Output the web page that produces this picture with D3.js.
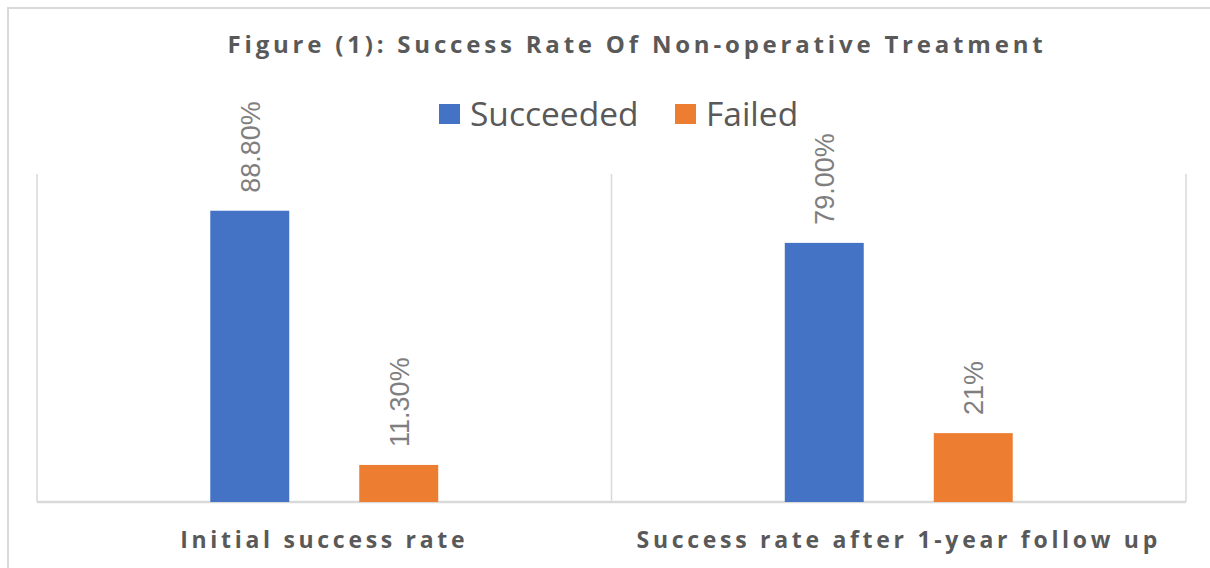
<!DOCTYPE html>
<html>
<head>
<meta charset="utf-8">
<script src="https://cdn.jsdelivr.net/npm/d3@7"></script>
<style>
  body { margin: 0; background: #fff; }
  svg { display: block; }
</style>
</head>
<body>
<div id="chart"></div>
<script>

// data
var categories = ["Initial success rate", "Success rate after 1-year follow up"];
var seriesNames = ["Succeeded", "Failed"];
var succeeded = [88.8, 79.0];
var failed = [11.3, 21];
var valueLabels = [["88.80%", "11.30%"], ["79.00%", "21%"]];

var colors = ["#4472c4", "#ed7d31"];

var width = 1210, height = 568;
var margin = { top: 174, right: 24, bottom: 66, left: 37 };

var svg = d3.select("#chart").append("svg")
    .attr("width", width)
    .attr("height", height);

// outer chart border (only top/left visible in the crop)
svg.append("path")
    .attr("d", "M8,568 L8,8 L1210,8")
    .attr("fill", "none")
    .attr("stroke", "#d9d9d9")
    .attr("stroke-width", 2);

var plotW = width - margin.left - margin.right,
    plotH = height - margin.top - margin.bottom;

var g = svg.append("g")
    .attr("transform", "translate(" + margin.left + "," + margin.top + ")");

var x0 = d3.scaleBand()
    .domain(categories)
    .range([0, plotW])
    .padding(0);

var x1 = d3.scaleBand()
    .domain(seriesNames)
    .range([0, x0.bandwidth()])
    .paddingInner(0.47)
    .paddingOuter(1.163);

var y = d3.scaleLinear()
    .domain([0, 100])
    .range([plotH, 0]);

// vertical category separators
var seps = [0].concat(categories.map(function(c) { return x0(c) + x0.bandwidth(); }));
g.selectAll(".sep")
    .data(seps)
    .enter().append("line")
    .attr("class", "sep")
    .attr("x1", function(d) { return d; })
    .attr("x2", function(d) { return d; })
    .attr("y1", 0)
    .attr("y2", plotH)
    .attr("stroke", "#d9d9d9")
    .attr("stroke-width", 1.5);

// x axis line
g.append("line")
    .attr("x1", 0).attr("x2", plotW)
    .attr("y1", plotH).attr("y2", plotH)
    .attr("stroke", "#d9d9d9")
    .attr("stroke-width", 2.5);

var rows = categories.map(function(c, i) {
    return { cat: c, values: [succeeded[i], failed[i]], labels: valueLabels[i] };
});

var groups = g.selectAll(".group")
    .data(rows)
    .enter().append("g")
    .attr("class", "group")
    .attr("transform", function(d) { return "translate(" + x0(d.cat) + ",0)"; });

groups.selectAll("rect")
    .data(function(d) { return d.values.map(function(v, j) { return { key: seriesNames[j], value: v, label: d.labels[j], idx: j }; }); })
    .enter().append("rect")
    .attr("x", function(d) { return x1(d.key); })
    .attr("y", function(d) { return y(d.value); })
    .attr("width", x1.bandwidth())
    .attr("height", function(d) { return plotH - y(d.value); })
    .attr("fill", function(d) { return colors[d.idx]; });

// rotated data labels
groups.selectAll(".vlabel")
    .data(function(d) { return d.values.map(function(v, j) { return { key: seriesNames[j], value: v, label: d.labels[j] }; }); })
    .enter().append("text")
    .attr("class", "vlabel")
    .attr("transform", function(d) {
        return "translate(" + (x1(d.key) + x1.bandwidth() / 2 + 10) + "," + (y(d.value) - 18) + ") rotate(-90)";
    })
    .attr("text-anchor", "start")
    .style("font-family", "'Liberation Sans', Arial, sans-serif")
    .style("font-size", "27px")
    .style("fill", "#7f7f7f")
    .text(function(d) { return d.label; });

// category labels
g.selectAll(".cat")
    .data(categories)
    .enter().append("text")
    .attr("class", "cat")
    .attr("x", function(d) { return x0(d) + x0.bandwidth() / 2; })
    .attr("y", plotH + 46)
    .attr("text-anchor", "middle")
    .style("font-family", "'Open Sans', sans-serif")
    .style("font-weight", "bold")
    .style("font-size", "23px")
    .style("letter-spacing", "3.7px")
    .style("fill", "#595959")
    .text(function(d) { return d; });

// title
svg.append("text")
    .attr("x", 637)
    .attr("y", 53)
    .attr("text-anchor", "middle")
    .style("font-family", "'Open Sans', sans-serif")
    .style("font-weight", "bold")
    .style("font-size", "24px")
    .style("letter-spacing", "3.8px")
    .style("fill", "#595959")
    .text("Figure (1): Success Rate Of Non-operative Treatment");

// legend
var legendX = [439, 675];
var legend = svg.selectAll(".legend")
    .data(seriesNames)
    .enter().append("g")
    .attr("class", "legend")
    .attr("transform", function(d, i) { return "translate(" + legendX[i] + ",104)"; });

legend.append("rect")
    .attr("width", 21)
    .attr("height", 20)
    .attr("fill", function(d, i) { return colors[i]; });

legend.append("text")
    .attr("x", 31)
    .attr("y", 22)
    .style("font-family", "'Open Sans', sans-serif")
    .style("font-size", "33.5px")
    .style("fill", "#595959")
    .text(function(d) { return d; });

</script>
</body>
</html>
